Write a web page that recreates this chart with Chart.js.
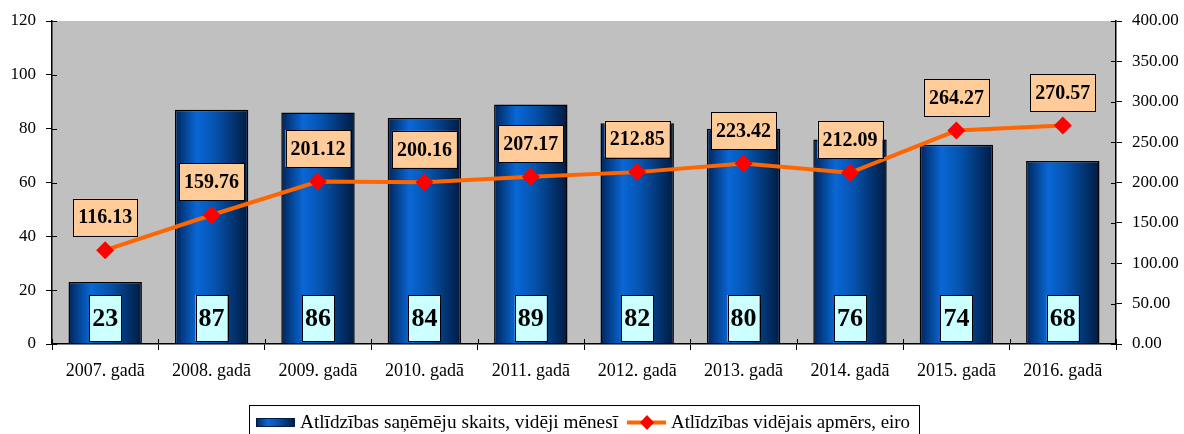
<!DOCTYPE html>
<html>
<head>
<meta charset="utf-8">
<script src="https://cdn.jsdelivr.net/npm/chart.js@4/dist/chart.umd.min.js"></script>
<style>
  html, body { margin: 0; padding: 0; background: #fff; }
  #wrap { width: 1184px; height: 434px; }
</style>
</head>
<body>
<div id="wrap"><canvas id="myChart" width="1184" height="434"></canvas></div>
<script>
// data
const years = ['2007. gadā', '2008. gadā', '2009. gadā', '2010. gadā', '2011. gadā',
               '2012. gadā', '2013. gadā', '2014. gadā', '2015. gadā', '2016. gadā'];
const recipients = [23, 87, 86, 84, 89, 82, 80, 76, 74, 68];
const avgAmount = [116.13, 159.76, 201.12, 200.16, 207.17, 212.85, 223.42, 212.09, 264.27, 270.57];
const barLabel = 'Atlīdzības saņēmēju skaits, vidēji mēnesī';
const lineLabel = 'Atlīdzības vidējais apmērs, eiro';

const serif = "'Liberation Serif', 'Times New Roman', serif";
const barPct = 0.69;

// blue cylinder look for a bar from its left to right edge
const barGradient = (ctx, x0, x1) => {
    const g = ctx.createLinearGradient(x0, 0, x1, 0);
    g.addColorStop(0, '#00255a');
    g.addColorStop(0.3, '#0967d6');
    g.addColorStop(0.55, '#0553ad');
    g.addColorStop(1, '#001a40');
    return g;
};

// each bar gets its own gradient, worked out from the x scale
const barFill = (context) => {
    const chart = context.chart;
    const xs = chart.scales.x;
    if (!chart.chartArea || !xs || context.dataIndex === undefined) return '#0553ad';
    const cx = xs.getPixelForValue(context.dataIndex);
    const half = (chart.chartArea.right - chart.chartArea.left) / years.length * barPct / 2;
    return barGradient(chart.ctx, cx - half, cx + half);
};

const labelBox = (ctx, text, cx, cy, h, pad, fill, font) => {
    ctx.font = font;
    const w = ctx.measureText(text).width + pad * 2;
    ctx.fillStyle = fill;
    ctx.fillRect(cx - w / 2, cy - h / 2, w, h);
    ctx.strokeStyle = '#000';
    ctx.lineWidth = 1;
    ctx.strokeRect(Math.round(cx - w / 2) + 0.5, Math.round(cy - h / 2) + 0.5, Math.round(w), Math.round(h));
    ctx.fillStyle = '#000';
    ctx.textAlign = 'center';
    ctx.textBaseline = 'middle';
    ctx.fillText(text, cx, cy + 1);
};

const fitText = (ctx, text, x, y, width) => {
    const natural = ctx.measureText(text).width;
    ctx.save();
    ctx.translate(x, y);
    ctx.scale(width / natural, 1);
    ctx.fillText(text, 0, 0);
    ctx.restore();
};

const extras = {
    id: 'extras',
    beforeDraw(chart) {
        const { ctx, chartArea: a } = chart;
        ctx.save();
        ctx.fillStyle = '#c0c0c0';
        ctx.fillRect(a.left, a.top, a.right - a.left, a.bottom - a.top);
        ctx.restore();
    },
    afterDatasetsDraw(chart) {
        const { ctx, chartArea: a } = chart;
        ctx.save();
        // inner halves of the crossing ticks
        ctx.strokeStyle = '#000';
        ctx.lineWidth = 1;
        const yl = chart.scales.y, yr = chart.scales.y1;
        yl.ticks.forEach((t, i) => {
            const p = Math.round(yl.getPixelForTick(i)) + 0.5;
            ctx.beginPath(); ctx.moveTo(a.left, p); ctx.lineTo(a.left + 5, p); ctx.stroke();
        });
        yr.ticks.forEach((t, i) => {
            const p = Math.round(yr.getPixelForTick(i)) + 0.5;
            ctx.beginPath(); ctx.moveTo(a.right, p); ctx.lineTo(a.right - 5, p); ctx.stroke();
        });
        for (let i = 0; i <= years.length; i++) {
            const p = Math.round(a.left + (a.right - a.left) * i / years.length) + 0.5;
            ctx.beginPath(); ctx.moveTo(p, a.bottom); ctx.lineTo(p, a.bottom - 5); ctx.stroke();
        }
        // value boxes
        chart.getDatasetMeta(1).data.forEach((bar, i) => {
            labelBox(ctx, String(recipients[i]), bar.x, a.bottom - 26, 46, 3, '#ccffff', 'bold 26px ' + serif);
        });
        chart.getDatasetMeta(0).data.forEach((pt, i) => {
            labelBox(ctx, avgAmount[i].toFixed(2), pt.x, pt.y - 33, 37, 5, '#ffcc99', 'bold 20px ' + serif);
        });
        ctx.restore();
    },
    afterDraw(chart) {
        const ctx = chart.ctx;
        ctx.save();
        ctx.strokeStyle = '#000';
        ctx.lineWidth = 1;
        ctx.strokeRect(249.5, 405.5, 670, 40);
        // bar swatch
        ctx.fillStyle = barGradient(ctx, 256, 295);
        ctx.fillRect(256, 418, 39, 9);
        ctx.strokeStyle = '#001a40';
        ctx.strokeRect(256.5, 418.5, 38, 8);
        ctx.fillStyle = '#000';
        ctx.font = '18px ' + serif;
        ctx.textAlign = 'left';
        ctx.textBaseline = 'middle';
        fitText(ctx, barLabel, 300, 423, 318);
        // line swatch
        ctx.strokeStyle = '#ff6600';
        ctx.lineWidth = 4;
        ctx.beginPath(); ctx.moveTo(627, 422.5); ctx.lineTo(666, 422.5); ctx.stroke();
        ctx.fillStyle = '#ff0000';
        ctx.beginPath();
        ctx.moveTo(647, 415); ctx.lineTo(654, 422.5); ctx.lineTo(647, 430); ctx.lineTo(640, 422.5);
        ctx.closePath(); ctx.fill();
        ctx.fillStyle = '#000';
        fitText(ctx, lineLabel, 671, 423, 239);
        ctx.restore();
    }
};

new Chart(document.getElementById('myChart'), {
    type: 'bar',
    data: {
        labels: years,
        datasets: [{
            type: 'line',
            label: lineLabel,
            data: avgAmount,
            yAxisID: 'y1',
            order: 0,
            borderColor: '#ff6600',
            borderWidth: 4,
            tension: 0,
            pointStyle: 'rectRot',
            pointRadius: 9,
            pointBackgroundColor: '#ff0000',
            pointBorderWidth: 0
        }, {
            label: barLabel,
            data: recipients,
            yAxisID: 'y',
            order: 1,
            backgroundColor: barFill,
            borderColor: '#000',
            borderWidth: 1.5,
            categoryPercentage: 1,
            barPercentage: barPct
        }]
    },
    options: {
        responsive: false,
        animation: false,
        layout: { padding: { top: 21, left: 0, right: 0, bottom: 0 } },
        plugins: { legend: { display: false }, tooltip: { enabled: false } },
        scales: {
            x: {
                afterFit: s => { s.height = 90; },
                grid: { display: true, drawOnChartArea: false, offset: true, tickLength: 6, color: '#000' },
                border: { color: '#000', width: 1.5 },
                ticks: { color: '#000', font: { family: serif, size: 18 }, padding: 10, maxRotation: 0 }
            },
            y: {
                position: 'left',
                min: 0, max: 120,
                afterFit: s => { s.width = 52; },
                grid: { display: true, drawOnChartArea: false, tickLength: 6, color: '#000' },
                border: { color: '#000', width: 1.5 },
                ticks: { stepSize: 20, color: '#000', font: { family: serif, size: 17 }, padding: 10 }
            },
            y1: {
                position: 'right',
                min: 0, max: 400,
                afterFit: s => { s.width = 68; },
                grid: { display: true, drawOnChartArea: false, tickLength: 6, color: '#000' },
                border: { color: '#000', width: 1.5 },
                ticks: { stepSize: 50, color: '#000', font: { family: serif, size: 17 }, padding: 10,
                         callback: v => v.toFixed(2) }
            }
        }
    },
    plugins: [extras]
});
</script>
</body>
</html>
